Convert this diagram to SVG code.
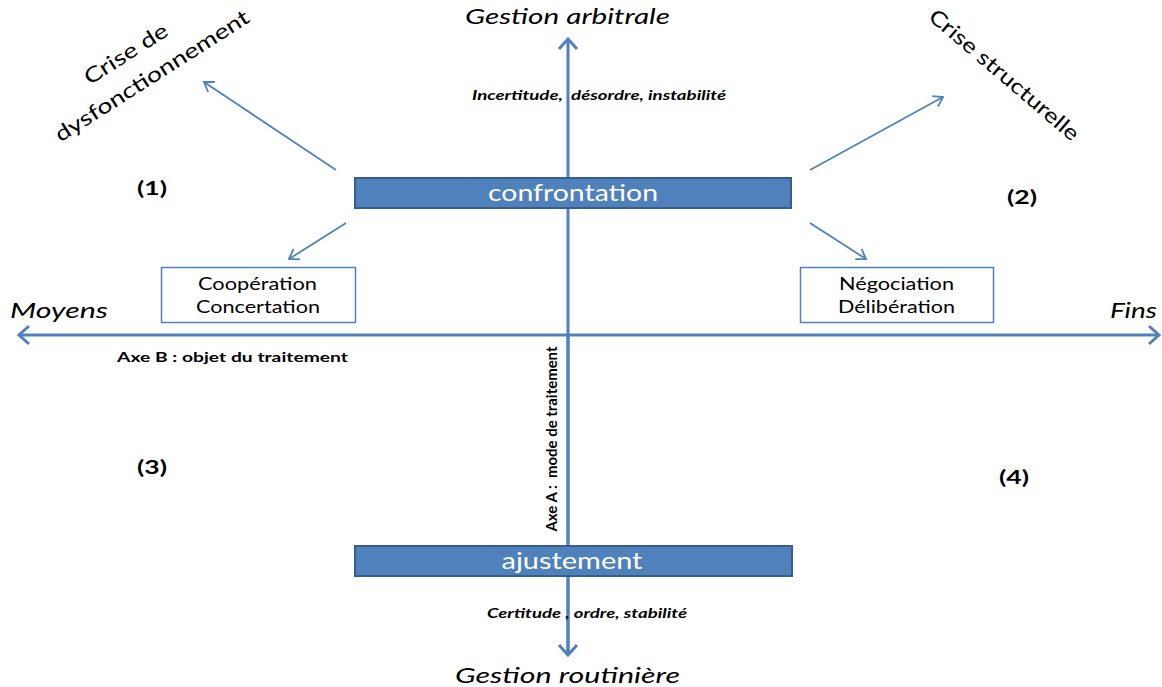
<svg xmlns="http://www.w3.org/2000/svg" width="1162" height="687" viewBox="0 0 1162 687">
<style>
.ax{stroke:#4F81BD;stroke-width:3;fill:none}
.ar{stroke:#4F81BD;stroke-width:1.8;fill:none}
.bar{fill:#4F81BD;stroke:#385D8A;stroke-width:2}
.box{fill:#fff;stroke:#4F81BD;stroke-width:1.5}
.t{font-family:Lato,"Liberation Sans",sans-serif;fill:#000}
.w{font-family:Lato,"Liberation Sans",sans-serif;fill:#fff;font-size:23px}
.i{font-style:italic}
.b{font-weight:bold}
</style>
<defs>
<marker id="big" markerUnits="userSpaceOnUse" markerWidth="24" markerHeight="24" refX="12" refY="12" orient="auto" viewBox="0 0 24 24">
<path d="M2,3 L12,12 L2,21" fill="none" stroke="#4F81BD" stroke-width="3"/>
</marker>
<marker id="sm" markerUnits="userSpaceOnUse" markerWidth="20" markerHeight="20" refX="10" refY="10" orient="auto" viewBox="0 0 20 20">
<path d="M1,4 L10,10 L1,16" fill="none" stroke="#4F81BD" stroke-width="1.8"/>
</marker>
</defs>
<rect width="1162" height="687" fill="#fff"/>
<g id="connectors">
<line class="ax" x1="568" y1="655" x2="568" y2="39" marker-end="url(#big)"/>
<line class="ax" x1="568" y1="335" x2="568" y2="655" marker-end="url(#big)"/>
<line class="ax" x1="568" y1="335" x2="19" y2="335" marker-end="url(#big)"/>
<line class="ax" x1="568" y1="335" x2="1159" y2="335" marker-end="url(#big)"/>
<line class="ar" x1="336" y1="170" x2="204" y2="82" marker-end="url(#sm)"/>
<line class="ar" x1="810" y1="170" x2="943" y2="97" marker-end="url(#sm)"/>
<line class="ar" x1="346" y1="223" x2="289" y2="259" marker-end="url(#sm)"/>
<line class="ar" x1="810" y1="223" x2="866" y2="259" marker-end="url(#sm)"/>
</g>
<g id="confrontation">
<rect class="bar" x="355" y="178" width="436" height="30"/>
<text class="w" x="573" y="201" text-anchor="middle" textLength="170" lengthAdjust="spacingAndGlyphs">confrontation</text>
</g>
<g id="ajustement">
<rect class="bar" x="355" y="546" width="437" height="30"/>
<text class="w" x="572" y="569" text-anchor="middle" textLength="141" lengthAdjust="spacingAndGlyphs">ajustement</text>
</g>
<g id="cooperation">
<rect class="box" x="161.5" y="267.5" width="194" height="55"/>
<text class="t" x="257.5" y="290" font-size="17" text-anchor="middle" textLength="119" lengthAdjust="spacingAndGlyphs">Coopération</text>
<text class="t" x="258" y="313" font-size="17" text-anchor="middle" textLength="124" lengthAdjust="spacingAndGlyphs">Concertation</text>
</g>
<g id="negociation">
<rect class="box" x="800.5" y="267.5" width="193" height="55"/>
<text class="t" x="896.5" y="290" font-size="17" text-anchor="middle" textLength="115" lengthAdjust="spacingAndGlyphs">Négociation</text>
<text class="t" x="896.5" y="313" font-size="17" text-anchor="middle" textLength="117" lengthAdjust="spacingAndGlyphs">Délibération</text>
</g>
<g id="labels">
<text class="t i" x="567.5" y="24" font-size="22" text-anchor="middle" textLength="205" lengthAdjust="spacingAndGlyphs">Gestion arbitrale</text>
<text class="t i" x="567.5" y="683" font-size="22" text-anchor="middle" textLength="225" lengthAdjust="spacingAndGlyphs">Gestion routinière</text>
<text class="t i b" x="599" y="100" font-size="13" text-anchor="middle" xml:space="preserve" textLength="254" lengthAdjust="spacingAndGlyphs">Incertitude,  désordre, instabilité</text>
<text class="t i b" x="587" y="618" font-size="13" text-anchor="middle" textLength="200" lengthAdjust="spacingAndGlyphs">Certitude , ordre, stabilité</text>
<text class="t i" x="10" y="318" font-size="21" textLength="98" lengthAdjust="spacingAndGlyphs">Moyens</text>
<text class="t i" x="1110" y="318" font-size="21" textLength="47" lengthAdjust="spacingAndGlyphs">Fins</text>
<text class="t b" x="117" y="362" font-size="14" textLength="231" lengthAdjust="spacingAndGlyphs">Axe B : objet du traitement</text>
<text class="t b" transform="translate(557,439) rotate(-90)" x="0" y="0" font-size="15" text-anchor="middle" xml:space="preserve" textLength="185" lengthAdjust="spacingAndGlyphs">Axe A :  mode de traitement</text>
<text class="t b" x="152" y="195" font-size="18" text-anchor="middle" textLength="30" lengthAdjust="spacingAndGlyphs">(1)</text>
<text class="t b" x="1022" y="204" font-size="18" text-anchor="middle" textLength="30" lengthAdjust="spacingAndGlyphs">(2)</text>
<text class="t b" x="152" y="474" font-size="18" text-anchor="middle" textLength="30" lengthAdjust="spacingAndGlyphs">(3)</text>
<text class="t b" x="1014" y="484" font-size="18" text-anchor="middle" textLength="30" lengthAdjust="spacingAndGlyphs">(4)</text>
<g transform="translate(126,54) rotate(-32.5)">
<text class="t" x="0" y="7" font-size="21" text-anchor="middle" textLength="95" lengthAdjust="spacingAndGlyphs">Crise de</text>
</g>
<g transform="translate(152,76) rotate(-32.5)">
<text class="t" x="0" y="7" font-size="21" text-anchor="middle" textLength="226" lengthAdjust="spacingAndGlyphs">dysfonctionnement</text>
</g>
<g transform="translate(1004,75) rotate(40.5)">
<text class="t" x="0" y="7" font-size="21" text-anchor="middle" textLength="190" lengthAdjust="spacingAndGlyphs">Crise structurelle</text>
</g>
</g>
</svg>
